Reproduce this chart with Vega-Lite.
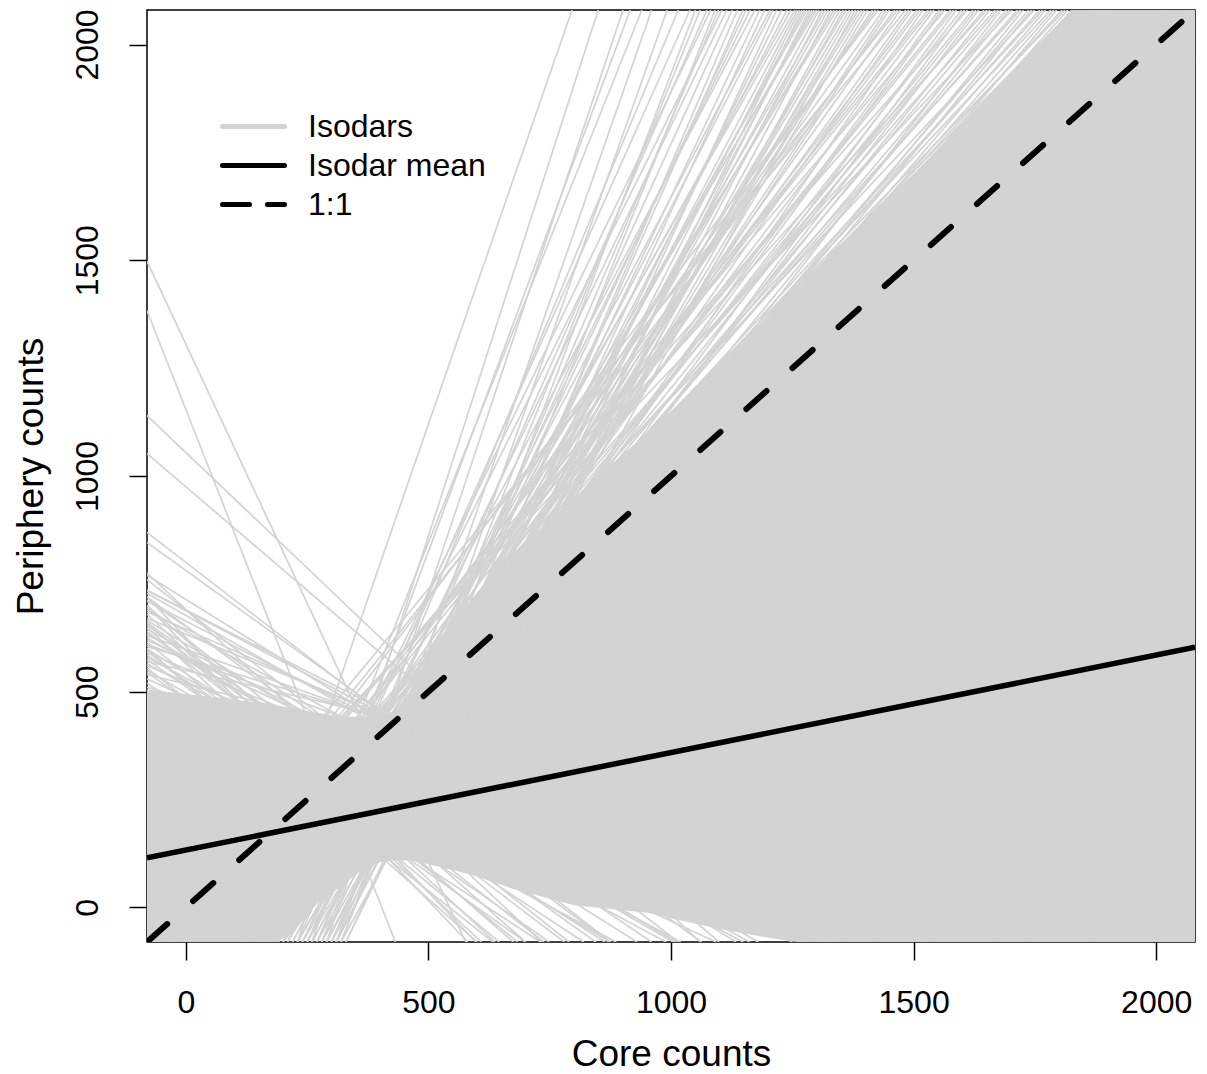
{
  "$schema": "https://vega.github.io/schema/vega-lite/v6.json",
  "width": 1048,
  "height": 932,
  "autosize": "none",
  "padding": {"left": 147, "top": 10, "right": 12, "bottom": 132},
  "background": "white",
  "config": {
    "view": {"stroke": "black", "strokeWidth": 1.5},
    "font": "Liberation Sans",
    "axis": {"grid": false, "domain": false, "tickColor": "black", "tickWidth": 1.5, "tickSize": 18,
      "labelFont": "Liberation Sans", "labelFontSize": 32, "labelColor": "black",
      "titleFont": "Liberation Sans", "titleFontSize": 37, "titleFontWeight": "normal", "titleColor": "black",
      "labelOverlap": false, "labelFlush": false, "format": "d"}
  },
  "datasets": {
    "band": [
      {"x1": -80, "y1": -80, "y2": 505},
      {"x1": 0, "y1": -80, "y2": 495},
      {"x1": 100, "y1": -80, "y2": 482},
      {"x1": 190, "y1": -80, "y2": 468},
      {"x1": 230, "y1": -45, "y2": 460},
      {"x1": 265, "y1": 5, "y2": 452},
      {"x1": 300, "y1": 32, "y2": 446},
      {"x1": 333, "y1": 62, "y2": 442},
      {"x1": 368, "y1": 90, "y2": 442},
      {"x1": 400, "y1": 105, "y2": 446},
      {"x1": 436, "y1": 110, "y2": 455},
      {"x1": 470, "y1": 108, "y2": 510},
      {"x1": 520, "y1": 95, "y2": 600},
      {"x1": 574, "y1": 80, "y2": 690},
      {"x1": 600, "y1": 72, "y2": 730},
      {"x1": 677, "y1": 42, "y2": 820},
      {"x1": 800, "y1": 5, "y2": 950},
      {"x1": 951, "y1": -12, "y2": 1100},
      {"x1": 1000, "y1": -25, "y2": 1150},
      {"x1": 1100, "y1": -50, "y2": 1265},
      {"x1": 1210, "y1": -72, "y2": 1380},
      {"x1": 1260, "y1": -80, "y2": 1440},
      {"x1": 1500, "y1": -80, "y2": 1700},
      {"x1": 1800, "y1": -80, "y2": 2050},
      {"x1": 2080, "y1": -80, "y2": 2400}
    ],
    "iso": [
      {"x1": -80, "y1": 1498, "x2": 577, "y2": -80},
      {"x1": -80, "y1": 1383, "x2": 432, "y2": -80},
      {"x1": -80, "y1": 1140, "x2": 1060, "y2": -80},
      {"x1": -80, "y1": 1052, "x2": 1099, "y2": -80},
      {"x1": -80, "y1": 869, "x2": 1015, "y2": -80},
      {"x1": -80, "y1": 846, "x2": 1063, "y2": -80},
      {"x1": -80, "y1": 770, "x2": 1134, "y2": -80},
      {"x1": -80, "y1": 735, "x2": 1301, "y2": -80},
      {"x1": -80, "y1": 735, "x2": 1350, "y2": -80},
      {"x1": -80, "y1": 720, "x2": 872, "y2": -80},
      {"x1": -80, "y1": 710, "x2": 1282, "y2": -80},
      {"x1": -80, "y1": 700, "x2": 700, "y2": -80},
      {"x1": -80, "y1": 690, "x2": 1162, "y2": -80},
      {"x1": -80, "y1": 680, "x2": 637, "y2": -80},
      {"x1": -80, "y1": 670, "x2": 1550, "y2": -80},
      {"x1": -80, "y1": 660, "x2": 845, "y2": -80},
      {"x1": -80, "y1": 650, "x2": 609, "y2": -80},
      {"x1": -80, "y1": 645, "x2": 1149, "y2": -80},
      {"x1": -80, "y1": 640, "x2": 738, "y2": -80},
      {"x1": -80, "y1": 630, "x2": 1695, "y2": -80},
      {"x1": -80, "y1": 625, "x2": 1005, "y2": -80},
      {"x1": -80, "y1": 615, "x2": 684, "y2": -80},
      {"x1": -80, "y1": 610, "x2": 1563, "y2": -80},
      {"x1": -80, "y1": 600, "x2": 864, "y2": -80},
      {"x1": -80, "y1": 595, "x2": 646, "y2": -80},
      {"x1": -80, "y1": 590, "x2": 1377, "y2": -80},
      {"x1": -80, "y1": 580, "x2": 1020, "y2": -80},
      {"x1": -80, "y1": 575, "x2": 749, "y2": -80},
      {"x1": -80, "y1": 570, "x2": 2420, "y2": -80},
      {"x1": -80, "y1": 560, "x2": 1311, "y2": -80},
      {"x1": -80, "y1": 555, "x2": 633, "y2": -80},
      {"x1": -80, "y1": 550, "x2": 875, "y2": -80},
      {"x1": -80, "y1": 540, "x2": 2134, "y2": -80},
      {"x1": -80, "y1": 530, "x2": 1093, "y2": -80},
      {"x1": -80, "y1": 520, "x2": 731, "y2": -80},
      {"x1": -80, "y1": 510, "x2": 1764, "y2": -80},
      {"x1": -80, "y1": 500, "x2": 887, "y2": -80},
      {"x1": -80, "y1": 490, "x2": 1420, "y2": -80},
      {"x1": -80, "y1": 760, "x2": 875, "y2": -80},
      {"x1": -80, "y1": 775, "x2": 734, "y2": -80},
      {"x1": -80, "y1": 720, "x2": 598, "y2": -80},
      {"x1": -80, "y1": 700, "x2": 581, "y2": -80},
      {"x1": -80, "y1": 660, "x2": 675, "y2": -80},
      {"x1": -80, "y1": 600, "x2": 600, "y2": -80},
      {"x1": -80, "y1": 728, "x2": 1180, "y2": -80},
      {"x1": -80, "y1": 712, "x2": 960, "y2": -80},
      {"x1": -80, "y1": 695, "x2": 790, "y2": -80},
      {"x1": -80, "y1": 685, "x2": 1450, "y2": -80},
      {"x1": -80, "y1": 665, "x2": 1010, "y2": -80},
      {"x1": -80, "y1": 655, "x2": 780, "y2": -80},
      {"x1": -80, "y1": 635, "x2": 930, "y2": -80},
      {"x1": -80, "y1": 620, "x2": 1250, "y2": -80},
      {"x1": -80, "y1": 605, "x2": 1900, "y2": -80},
      {"x1": -80, "y1": 585, "x2": 820, "y2": -80},
      {"x1": -80, "y1": 565, "x2": 990, "y2": -80},
      {"x1": -80, "y1": 545, "x2": 700, "y2": -80},
      {"x1": 130, "y1": -80, "x2": 796, "y2": 2080},
      {"x1": 260, "y1": -80, "x2": 901, "y2": 2080},
      {"x1": 200, "y1": -80, "x2": 916, "y2": 2080},
      {"x1": 310, "y1": -80, "x2": 992, "y2": 2080},
      {"x1": 180, "y1": -80, "x2": 1039, "y2": 2080},
      {"x1": 280, "y1": -80, "x2": 1060, "y2": 2080},
      {"x1": 230, "y1": -80, "x2": 1074, "y2": 2080},
      {"x1": 320, "y1": -80, "x2": 1091, "y2": 2080},
      {"x1": 150, "y1": -80, "x2": 1105, "y2": 2080},
      {"x1": 250, "y1": -80, "x2": 1126, "y2": 2080},
      {"x1": 300, "y1": -80, "x2": 1148, "y2": 2080},
      {"x1": 210, "y1": -80, "x2": 1163, "y2": 2080},
      {"x1": 270, "y1": -80, "x2": 1183, "y2": 2080},
      {"x1": 190, "y1": -80, "x2": 1204, "y2": 2080},
      {"x1": 330, "y1": -80, "x2": 1218, "y2": 2080},
      {"x1": 240, "y1": -80, "x2": 1239, "y2": 2080},
      {"x1": 160, "y1": -80, "x2": 1255, "y2": 2080},
      {"x1": 290, "y1": -80, "x2": 1265, "y2": 2080},
      {"x1": 220, "y1": -80, "x2": 1275, "y2": 2080},
      {"x1": 310, "y1": -80, "x2": 1285, "y2": 2080},
      {"x1": 170, "y1": -80, "x2": 1295, "y2": 2080},
      {"x1": 260, "y1": -80, "x2": 1305, "y2": 2080},
      {"x1": 200, "y1": -80, "x2": 1318, "y2": 2080},
      {"x1": 300, "y1": -80, "x2": 1330, "y2": 2080},
      {"x1": 140, "y1": -80, "x2": 1342, "y2": 2080},
      {"x1": 280, "y1": -80, "x2": 1355, "y2": 2080},
      {"x1": 230, "y1": -80, "x2": 1368, "y2": 2080},
      {"x1": 320, "y1": -80, "x2": 1380, "y2": 2080},
      {"x1": 190, "y1": -80, "x2": 1392, "y2": 2080},
      {"x1": 250, "y1": -80, "x2": 1405, "y2": 2080},
      {"x1": 230, "y1": -80, "x2": 850, "y2": 2080},
      {"x1": 170, "y1": -80, "x2": 940, "y2": 2080},
      {"x1": 290, "y1": -80, "x2": 960, "y2": 2080},
      {"x1": 210, "y1": -80, "x2": 1015, "y2": 2080},
      {"x1": 320, "y1": -80, "x2": 1050, "y2": 2080},
      {"x1": 150, "y1": -80, "x2": 1082, "y2": 2080},
      {"x1": 270, "y1": -80, "x2": 1098, "y2": 2080},
      {"x1": 190, "y1": -80, "x2": 1115, "y2": 2080},
      {"x1": 310, "y1": -80, "x2": 1137, "y2": 2080},
      {"x1": 240, "y1": -80, "x2": 1155, "y2": 2080},
      {"x1": 160, "y1": -80, "x2": 1173, "y2": 2080},
      {"x1": 300, "y1": -80, "x2": 1193, "y2": 2080},
      {"x1": 220, "y1": -80, "x2": 1210, "y2": 2080},
      {"x1": 280, "y1": -80, "x2": 1228, "y2": 2080},
      {"x1": 180, "y1": -80, "x2": 1247, "y2": 2080},
      {"x1": 250, "y1": -80, "x2": 1260, "y2": 2080},
      {"x1": 330, "y1": -80, "x2": 1270, "y2": 2080},
      {"x1": 200, "y1": -80, "x2": 1280, "y2": 2080},
      {"x1": 260, "y1": -80, "x2": 1290, "y2": 2080},
      {"x1": 140, "y1": -80, "x2": 1300, "y2": 2080},
      {"x1": 310, "y1": -80, "x2": 1312, "y2": 2080},
      {"x1": 230, "y1": -80, "x2": 1324, "y2": 2080},
      {"x1": 170, "y1": -80, "x2": 1336, "y2": 2080},
      {"x1": 290, "y1": -80, "x2": 1348, "y2": 2080},
      {"x1": 210, "y1": -80, "x2": 1361, "y2": 2080},
      {"x1": 270, "y1": -80, "x2": 1374, "y2": 2080},
      {"x1": 190, "y1": -80, "x2": 1386, "y2": 2080},
      {"x1": 240, "y1": -80, "x2": 1398, "y2": 2080},
      {"x1": 120, "y1": -80, "x2": 1415, "y2": 2080},
      {"x1": -40, "y1": -80, "x2": 1427, "y2": 2080},
      {"x1": 60, "y1": -80, "x2": 1438, "y2": 2080},
      {"x1": 180, "y1": -80, "x2": 1450, "y2": 2080},
      {"x1": 0, "y1": -80, "x2": 1461, "y2": 2080},
      {"x1": 100, "y1": -80, "x2": 1473, "y2": 2080},
      {"x1": -100, "y1": -80, "x2": 1484, "y2": 2080},
      {"x1": 150, "y1": -80, "x2": 1496, "y2": 2080},
      {"x1": 40, "y1": -80, "x2": 1507, "y2": 2080},
      {"x1": 200, "y1": -80, "x2": 1519, "y2": 2080},
      {"x1": -20, "y1": -80, "x2": 1530, "y2": 2080},
      {"x1": 80, "y1": -80, "x2": 1542, "y2": 2080},
      {"x1": 130, "y1": -80, "x2": 1553, "y2": 2080},
      {"x1": -60, "y1": -80, "x2": 1565, "y2": 2080},
      {"x1": 20, "y1": -80, "x2": 1576, "y2": 2080},
      {"x1": 170, "y1": -80, "x2": 1588, "y2": 2080},
      {"x1": 90, "y1": -80, "x2": 1599, "y2": 2080},
      {"x1": -80, "y1": -80, "x2": 1611, "y2": 2080},
      {"x1": 50, "y1": -80, "x2": 1622, "y2": 2080},
      {"x1": 140, "y1": -80, "x2": 1634, "y2": 2080},
      {"x1": 10, "y1": -80, "x2": 1645, "y2": 2080},
      {"x1": 110, "y1": -80, "x2": 1657, "y2": 2080},
      {"x1": -30, "y1": -80, "x2": 1668, "y2": 2080},
      {"x1": 190, "y1": -80, "x2": 1680, "y2": 2080},
      {"x1": 70, "y1": -80, "x2": 1691, "y2": 2080},
      {"x1": -120, "y1": -80, "x2": 1703, "y2": 2080},
      {"x1": 30, "y1": -80, "x2": 1714, "y2": 2080},
      {"x1": 160, "y1": -80, "x2": 1726, "y2": 2080},
      {"x1": 100, "y1": -80, "x2": 1737, "y2": 2080},
      {"x1": -50, "y1": -80, "x2": 1749, "y2": 2080},
      {"x1": 60, "y1": -80, "x2": 1760, "y2": 2080},
      {"x1": 120, "y1": -80, "x2": 1772, "y2": 2080},
      {"x1": -10, "y1": -80, "x2": 1783, "y2": 2080},
      {"x1": 180, "y1": -80, "x2": 1795, "y2": 2080},
      {"x1": 40, "y1": -80, "x2": 1806, "y2": 2080},
      {"x1": 90, "y1": -80, "x2": 1818, "y2": 2080},
      {"x1": -70, "y1": -80, "x2": 1829, "y2": 2080},
      {"x1": 140, "y1": -80, "x2": 1841, "y2": 2080},
      {"x1": 0, "y1": -80, "x2": 1852, "y2": 2080},
      {"x1": 200, "y1": -80, "x2": 1864, "y2": 2080},
      {"x1": 60, "y1": -80, "x2": 1875, "y2": 2080},
      {"x1": -30, "y1": -80, "x2": 1887, "y2": 2080},
      {"x1": 110, "y1": -80, "x2": 1898, "y2": 2080},
      {"x1": 30, "y1": -80, "x2": 1910, "y2": 2080},
      {"x1": 150, "y1": -80, "x2": 1921, "y2": 2080},
      {"x1": -90, "y1": -80, "x2": 1933, "y2": 2080},
      {"x1": 80, "y1": -80, "x2": 1944, "y2": 2080},
      {"x1": 20, "y1": -80, "x2": 1956, "y2": 2080},
      {"x1": 130, "y1": -80, "x2": 1967, "y2": 2080},
      {"x1": 50, "y1": -80, "x2": 1979, "y2": 2080},
      {"x1": 100, "y1": -80, "x2": 1990, "y2": 2080},
      {"x1": 0, "y1": -80, "x2": 2002, "y2": 2080},
      {"x1": 170, "y1": -80, "x2": 2013, "y2": 2080},
      {"x1": -40, "y1": -80, "x2": 2025, "y2": 2080},
      {"x1": 70, "y1": -80, "x2": 2036, "y2": 2080},
      {"x1": 10, "y1": -80, "x2": 2048, "y2": 2080},
      {"x1": 120, "y1": -80, "x2": 2060, "y2": 2080},
      {"x1": -60, "y1": -80, "x2": 2090, "y2": 2080},
      {"x1": 90, "y1": -80, "x2": 2130, "y2": 2080},
      {"x1": 40, "y1": -80, "x2": 2180, "y2": 2080},
      {"x1": 30, "y1": -80, "x2": 1421, "y2": 2080},
      {"x1": 170, "y1": -80, "x2": 1444, "y2": 2080},
      {"x1": -70, "y1": -80, "x2": 1467, "y2": 2080},
      {"x1": 110, "y1": -80, "x2": 1490, "y2": 2080},
      {"x1": 60, "y1": -80, "x2": 1513, "y2": 2080},
      {"x1": -10, "y1": -80, "x2": 1536, "y2": 2080},
      {"x1": 140, "y1": -80, "x2": 1559, "y2": 2080},
      {"x1": 20, "y1": -80, "x2": 1582, "y2": 2080},
      {"x1": 190, "y1": -80, "x2": 1605, "y2": 2080},
      {"x1": 80, "y1": -80, "x2": 1628, "y2": 2080},
      {"x1": -100, "y1": -80, "x2": 1651, "y2": 2080},
      {"x1": 50, "y1": -80, "x2": 1674, "y2": 2080},
      {"x1": 120, "y1": -80, "x2": 1697, "y2": 2080},
      {"x1": -20, "y1": -80, "x2": 1720, "y2": 2080},
      {"x1": 160, "y1": -80, "x2": 1743, "y2": 2080},
      {"x1": 0, "y1": -80, "x2": 1766, "y2": 2080},
      {"x1": 90, "y1": -80, "x2": 1789, "y2": 2080},
      {"x1": -50, "y1": -80, "x2": 1812, "y2": 2080},
      {"x1": 130, "y1": -80, "x2": 1835, "y2": 2080},
      {"x1": 40, "y1": -80, "x2": 1858, "y2": 2080},
      {"x1": 180, "y1": -80, "x2": 1881, "y2": 2080},
      {"x1": -30, "y1": -80, "x2": 1904, "y2": 2080},
      {"x1": 70, "y1": -80, "x2": 1927, "y2": 2080},
      {"x1": 110, "y1": -80, "x2": 1950, "y2": 2080},
      {"x1": -80, "y1": -80, "x2": 1973, "y2": 2080},
      {"x1": 150, "y1": -80, "x2": 1996, "y2": 2080},
      {"x1": 10, "y1": -80, "x2": 2019, "y2": 2080},
      {"x1": 60, "y1": -80, "x2": 2042, "y2": 2080},
      {"x1": 100, "y1": -80, "x2": 2070, "y2": 2080},
      {"x1": 0, "y1": -80, "x2": 2110, "y2": 2080},
      {"x1": 140, "y1": -80, "x2": 2150, "y2": 2080},
      {"x1": -20, "y1": -80, "x2": 2200, "y2": 2080}
    ],
    "mean": [{"x1": -80, "y1": 115, "x2": 2080, "y2": 603}],
    "one": [{"x1": -80, "y1": -80, "x2": 2080, "y2": 2080}]
  },
  "encoding": {
    "x": {"field": "x1", "type": "quantitative", "title": "Core counts",
      "scale": {"domain": [-80, 2080], "nice": false, "zero": false},
      "axis": {"values": [0, 500, 1000, 1500, 2000], "labelBaseline": "alphabetic", "labelPadding": 52,
        "titleY": 123, "titleBaseline": "alphabetic", "titleAnchor": "middle"}},
    "y": {"field": "y1", "type": "quantitative", "title": "Periphery counts",
      "scale": {"domain": [-80, 2080], "nice": false, "zero": false},
      "axis": {"values": [0, 500, 1000, 1500, 2000], "labelAngle": -90, "labelAlign": "center", "labelBaseline": "alphabetic",
        "labelPadding": 32, "titleAngle": -90, "titleX": -105, "titleY": 466, "titleAlign": "center", "titleBaseline": "alphabetic"}}
  },
  "layer": [
    {
      "data": {"name": "band"},
      "mark": {"type": "area", "color": "#d3d3d3", "clip": true, "orient": "vertical"},
      "encoding": {"y2": {"field": "y2"}}
    },
    {
      "data": {"name": "iso"},
      "mark": {"type": "rule", "strokeWidth": 1.7, "clip": true},
      "encoding": {
        "x2": {"field": "x2"},
        "y2": {"field": "y2"},
        "color": {"datum": "Isodars", "type": "nominal",
          "scale": {"domain": ["Isodars", "Isodar mean", "1:1"], "range": ["#d3d3d3", "black", "black"]},
          "legend": {"orient": "none", "legendX": 73, "legendY": 97, "title": null, "symbolType": "stroke",
            "symbolSize": 3844, "symbolStrokeWidth": 5, "labelFont": "Liberation Sans", "labelFontSize": 32,
            "labelColor": "black", "labelOffset": 21, "clipHeight": 39, "rowPadding": 0, "padding": 0, "labelLimit": 0,
            "encode": {"symbols": {"update": {
              "strokeDash": {"signal": "datum.value === '1:1' ? [27, 18] : [1, 0]"},
              "strokeCap": {"value": "round"}}}}}}
      }
    },
    {
      "data": {"name": "mean"},
      "mark": {"type": "rule", "strokeWidth": 5.5, "clip": true},
      "encoding": {"x2": {"field": "x2"}, "y2": {"field": "y2"}, "color": {"datum": "Isodar mean", "type": "nominal"}}
    },
    {
      "data": {"name": "one"},
      "mark": {"type": "rule", "strokeWidth": 6, "strokeDash": [27, 34.7], "strokeCap": "round", "clip": true},
      "encoding": {"x2": {"field": "x2"}, "y2": {"field": "y2"}, "color": {"datum": "1:1", "type": "nominal"}}
    }
  ]
}
